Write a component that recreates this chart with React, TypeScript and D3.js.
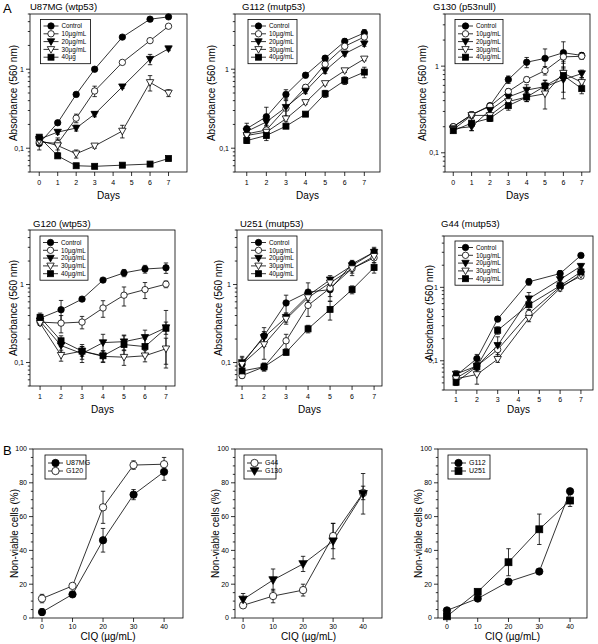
import React from 'react';
import * as d3 from 'd3';

// ---------- DATA ----------
const LEGEND_A = ['Control', '10µg/mL', '20µg/mL', '30µg/mL', '40µg/mL'];
const LEGEND_U87 = ['Control', '10µg/mL', '20µg/mL', '30µg/mL', '40µg'];

// U87MG (wtp53)
const U87_DAYS = [0, 1, 2, 3, 4.5, 6, 7];
const U87_CTRL = [0.115, 0.21, 0.48, 1.0, 2.55, 4.3, 4.6];
const U87_10 = [0.12, 0.115, 0.24, 0.53, 1.22, 2.3, 3.5];
const U87_20 = [0.13, 0.16, 0.18, 0.27, 0.6, 1.34, 1.82];
const U87_30 = [0.125, 0.108, 0.085, 0.107, 0.165, 0.68, 0.5];
const U87_40 = [0.138, 0.08, 0.06, 0.059, 0.061, 0.063, 0.074];
const U87_CTRL_E = [0.02, 0.01, 0.03, 0.05, 0.1, 0.15, 0.1];
const U87_10_E = [0.01, 0.02, 0.03, 0.08, 0.06, 0.1, 0.1];
const U87_20_E = [0.01, 0.01, 0.015, 0.02, 0.03, 0.2, 0.1];
const U87_30_E = [0.01, 0.02, 0.01, 0.007, 0.03, 0.15, 0.05];
const U87_40_E = [0.005, 0.003, 0.002, 0.002, 0.002, 0.002, 0.003];

// G112 (mutp53)
const G112_DAYS = [1, 2, 3, 4, 5, 6, 7];
const G112_CTRL = [0.177, 0.25, 0.48, 0.84, 1.38, 2.25, 2.88];
const G112_10 = [0.152, 0.17, 0.32, 0.59, 1.16, 1.95, 2.56];
const G112_20 = [0.163, 0.215, 0.33, 0.53, 0.96, 1.57, 2.1];
const G112_30 = [0.145, 0.16, 0.236, 0.38, 0.66, 0.96, 1.35];
const G112_40 = [0.125, 0.145, 0.19, 0.27, 0.49, 0.72, 0.92];
const G112_CTRL_E = [0.03, 0.08, 0.07, 0.06, 0.1, 0.2, 0.3];
const G112_10_E = [0.01, 0.02, 0.08, 0.05, 0.1, 0.15, 0.2];
const G112_20_E = [0.01, 0.02, 0.1, 0.04, 0.08, 0.1, 0.15];
const G112_30_E = [0.01, 0.01, 0.02, 0.02, 0.03, 0.05, 0.07];
const G112_40_E = [0.01, 0.02, 0.01, 0.01, 0.05, 0.08, 0.14];

// G130 (p53null)
const G130_DAYS = [0, 1, 2, 3, 4, 5, 6, 7];
const G130_CTRL = [0.2, 0.275, 0.35, 0.7, 1.11, 1.23, 1.43, 1.33];
const G130_10 = [0.2, 0.275, 0.345, 0.51, 0.7, 0.89, 1.28, 1.3];
const G130_20 = [0.19, 0.2, 0.31, 0.44, 0.53, 0.58, 0.7, 0.82];
const G130_30 = [0.185, 0.27, 0.27, 0.39, 0.44, 0.48, 0.83, 0.65];
const G130_40 = [0.18, 0.22, 0.25, 0.35, 0.44, 0.59, 0.78, 0.55];
const G130_CTRL_E = [0.01, 0.02, 0.02, 0.07, 0.15, 0.35, 0.48, 0.1];
const G130_10_E = [0.01, 0.02, 0.02, 0.04, 0.05, 0.1, 0.2, 0.1];
const G130_20_E = [0.01, 0.02, 0.03, 0.06, 0.08, 0.1, 0.2, 0.08];
const G130_30_E = [0.01, 0.02, 0.02, 0.04, 0.05, 0.16, 0.15, 0.08];
const G130_40_E = [0.01, 0.04, 0.02, 0.04, 0.05, 0.1, 0.36, 0.07];

// G120 (wtp53)
const G120_DAYS = [1, 2, 3, 4, 5, 6, 7];
const G120_CTRL = [0.37, 0.475, 0.65, 1.14, 1.41, 1.58, 1.64];
const G120_10 = [0.33, 0.32, 0.33, 0.5, 0.73, 0.86, 1.01];
const G120_20 = [0.34, 0.165, 0.13, 0.18, 0.185, 0.21, 0.28];
const G120_30 = [0.32, 0.124, 0.14, 0.12, 0.117, 0.122, 0.15];
const G120_40 = [0.38, 0.19, 0.14, 0.122, 0.17, 0.16, 0.275];
const G120_CTRL_E = [0.04, 0.15, 0.04, 0.06, 0.15, 0.18, 0.25];
const G120_10_E = [0.03, 0.08, 0.06, 0.12, 0.2, 0.2, 0.1];
const G120_20_E = [0.03, 0.03, 0.03, 0.05, 0.04, 0.05, 0.05];
const G120_30_E = [0.02, 0.02, 0.02, 0.02, 0.025, 0.02, 0.055];
const G120_40_E = [0.05, 0.03, 0.03, 0.02, 0.05, 0.04, 0.19];

// U251 (mutp53)
const U251_DAYS = [1, 2, 3, 4, 5, 6, 7];
const U251_CTRL = [0.095, 0.22, 0.58, 0.8, 0.86, 1.84, 2.6];
const U251_10 = [0.068, 0.088, 0.19, 0.54, 0.9, 1.6, 2.2];
const U251_20 = [0.1, 0.21, 0.38, 0.72, 1.15, 1.75, 2.6];
const U251_30 = [0.095, 0.17, 0.36, 0.68, 1.05, 1.6, 2.3];
const U251_40 = [0.078, 0.088, 0.135, 0.27, 0.48, 0.86, 1.65];
const U251_CTRL_E = [0.02, 0.06, 0.15, 0.25, 0.25, 0.2, 0.4];
const U251_10_E = [0.005, 0.01, 0.04, 0.15, 0.2, 0.3, 0.3];
const U251_20_E = [0.02, 0.04, 0.05, 0.1, 0.15, 0.2, 0.3];
const U251_30_E = [0.01, 0.06, 0.05, 0.1, 0.1, 0.2, 0.2];
const U251_40_E = [0.005, 0.01, 0.01, 0.03, 0.13, 0.1, 0.25];

// G44 (mutp53)
const G44_DAYS = [1, 2, 3, 4.5, 6, 7];
const G44_CTRL = [0.063, 0.107, 0.37, 1.19, 1.54, 2.72];
const G44_10 = [0.058, 0.085, 0.142, 0.44, 1.02, 1.42];
const G44_20 = [0.066, 0.085, 0.162, 0.7, 1.28, 1.94];
const G44_30 = [0.057, 0.065, 0.105, 0.38, 0.97, 1.5];
const G44_40 = [0.051, 0.083, 0.26, 0.58, 1.05, 1.62];
const G44_CTRL_E = [0.007, 0.015, 0.03, 0.12, 0.15, 0.1];
const G44_10_E = [0.005, 0.01, 0.02, 0.05, 0.08, 0.1];
const G44_20_E = [0.007, 0.02, 0.05, 0.15, 0.1, 0.15];
const G44_30_E = [0.005, 0.017, 0.01, 0.04, 0.08, 0.1];
const G44_40_E = [0.005, 0.01, 0.03, 0.08, 0.1, 0.1];

// Panel B
const CIQ = [0, 10, 20, 30, 40];
const B_U87MG = [3.5, 14, 46, 73, 86.5];
const B_U87MG_E = [2, 1, 7, 3, 5];
const B_G120 = [11.5, 19, 65.5, 90.5, 91];
const B_G120_E = [2.5, 1, 9.5, 2.5, 4];
const B_G44 = [7.5, 13, 16.5, 48.5, 74];
const B_G44_E = [1, 4, 3.5, 7.5, 4];
const B_G130 = [11, 22.5, 32, 45.5, 73.5];
const B_G130_E = [3.5, 6.5, 4.5, 10.5, 12];
const B_G112 = [4.5, 11.5, 21.5, 27.5, 75];
const B_G112_E = [0.5, 0.5, 0.5, 0.5, 0.5];
const B_U251 = [1, 15.5, 33, 52.5, 69.5];
const B_U251_E = [0.5, 0.5, 8, 9, 3.5];

const DAY_TICKS_0 = [0, 1, 2, 3, 4, 5, 6, 7];
const DAY_TICKS_1 = [1, 2, 3, 4, 5, 6, 7];
const CIQ_TICKS = [0, 10, 20, 30, 40];

// ---------- DRAWING ----------
const FONT = '"Liberation Sans", Arial, Helvetica, sans-serif';
const SW = 0.8;

type Shape = 'circle' | 'circleOpen' | 'tri' | 'triOpen' | 'square';
const SHAPES5: Shape[] = ['circle', 'circleOpen', 'tri', 'triOpen', 'square'];

function Marker({ shape, x, y, s = 1 }: { shape: Shape; x: number; y: number; s?: number }) {
  const fill = shape === 'circleOpen' || shape === 'triOpen' ? 'white' : 'black';
  if (shape === 'circle' || shape === 'circleOpen') {
    return <circle cx={x} cy={y} r={3.2 * s} fill={fill} stroke="black" strokeWidth={SW} />;
  }
  if (shape === 'square') {
    const h = 3.0 * s;
    return <rect x={x - h} y={y - h} width={2 * h} height={2 * h} fill={fill} stroke="black" strokeWidth={SW} />;
  }
  const w = 3.7 * s;
  const hh = 3.3 * s;
  return (
    <path d={`M${x - w},${y - hh * 0.85}L${x + w},${y - hh * 0.85}L${x},${y + hh * 1.15}Z`} fill={fill} stroke="black" strokeWidth={SW} />
  );
}

type Series = { x: number[]; y: number[]; e: number[]; shape: Shape; label: string };

type PanelCfg = {
  x0: number; x1: number; y0: number; y1: number;
  xDomain: [number, number];
  yDomain: [number, number];
  log: boolean;
  xTicks: number[];
  tickOff: number;
  title?: string;
  titleY?: number;
  titleX?: number;
  yLabel: string;
  yLabelX: number;
  xLabel: string;
  xLabelY: number;
  legend: { x: number; y: number; w: number; step: number; pad: number; fs: number };
  series: Series[];
  ms: number;
};

function Panel({ c }: { c: PanelCfg }) {
  const xs = d3.scaleLinear().domain(c.xDomain).range([c.x0, c.x1]);
  const ys = c.log
    ? d3.scaleLog().domain(c.yDomain).range([c.y1, c.y0])
    : d3.scaleLinear().domain(c.yDomain).range([c.y1, c.y0]);
  const [lo, hi] = c.yDomain;
  const els: React.ReactNode[] = [];

  // y ticks
  if (c.log) {
    const start = Math.floor(Math.log10(lo));
    const end = Math.ceil(Math.log10(hi));
    for (let p = start; p <= end; p++) {
      for (let m = 1; m <= 9; m++) {
        const v = m * Math.pow(10, p);
        if (v < lo * 0.999 || v > hi * 1.001) continue;
        const yy = ys(v);
        const major = m === 1;
        els.push(<line key={`yt${p}_${m}`} x1={c.x0} x2={c.x0 - (major ? 4 : 2.2)} y1={yy} y2={yy} stroke="black" strokeWidth={SW} />);
        if (major) {
          const lab = v >= 1 ? String(v) : String(v).replace('.', ',');
          els.push(<text key={`yl${p}`} x={c.x0 - 6} y={yy} dy="0.35em" textAnchor="end" fontSize={7} fontFamily={FONT}>{lab}</text>);
        }
      }
    }
  } else {
    for (let v = lo; v <= hi; v += 5) {
      const yy = ys(v);
      const major = v % 20 === 0;
      els.push(<line key={`yt${v}`} x1={c.x0} x2={c.x0 - (major ? 4 : 2.2)} y1={yy} y2={yy} stroke="black" strokeWidth={SW} />);
      if (major) els.push(<text key={`yl${v}`} x={c.x0 - 6} y={yy} dy="0.35em" textAnchor="end" fontSize={7} fontFamily={FONT}>{v}</text>);
    }
  }
  // x ticks
  c.xTicks.forEach((t) => {
    const xx = xs(t);
    els.push(<line key={`xt${t}`} x1={xx} x2={xx} y1={c.y1} y2={c.y1 + 4} stroke="black" strokeWidth={SW} />);
    els.push(<text key={`xl${t}`} x={xx} y={c.y1 + c.tickOff} textAnchor="middle" fontSize={7} fontFamily={FONT}>{t}</text>);
  });

  const line = d3.line<[number, number]>().x((d) => xs(d[0])).y((d) => ys(d[1]));

  c.series.forEach((s, si) => {
    const pts = s.x.map((xv, i) => [xv, s.y[i]] as [number, number]);
    els.push(<path key={`ln${si}`} d={line(pts) || ''} fill="none" stroke="black" strokeWidth={SW} />);
  });
  c.series.forEach((s, si) => {
    s.x.forEach((xv, i) => {
      const e = s.e[i];
      if (!e) return;
      const xx = xs(xv);
      const top = ys(Math.min(hi, s.y[i] + e));
      const bot = ys(Math.max(lo, s.y[i] - e));
      els.push(
        <g key={`eb${si}_${i}`} stroke="black" strokeWidth={SW}>
          <line x1={xx} x2={xx} y1={top} y2={bot} />
          <line x1={xx - 2.2} x2={xx + 2.2} y1={top} y2={top} />
          <line x1={xx - 2.2} x2={xx + 2.2} y1={bot} y2={bot} />
        </g>
      );
    });
  });
  c.series.forEach((s, si) => {
    s.x.forEach((xv, i) => {
      els.push(<Marker key={`mk${si}_${i}`} shape={s.shape} x={xs(xv)} y={ys(s.y[i])} s={c.ms} />);
    });
  });

  // frame
  els.push(<rect key="frame" x={c.x0} y={c.y0} width={c.x1 - c.x0} height={c.y1 - c.y0} fill="none" stroke="black" strokeWidth={SW} />);

  // legend
  const L = c.legend;
  const n = c.series.length;
  const h = L.pad * 2 + L.step * (n - 1);
  els.push(<rect key="lgbox" x={L.x} y={L.y} width={L.w} height={h} fill="white" stroke="black" strokeWidth={SW} />);
  c.series.forEach((s, i) => {
    const yy = L.y + L.pad + L.step * i;
    els.push(<line key={`lgl${i}`} x1={L.x + 3} x2={L.x + 18} y1={yy} y2={yy} stroke="black" strokeWidth={SW} />);
    els.push(<Marker key={`lgm${i}`} shape={s.shape} x={L.x + 10.5} y={yy} s={c.ms} />);
    els.push(<text key={`lgt${i}`} x={L.x + 21} y={yy} dy="0.35em" fontSize={L.fs} fontFamily={FONT}>{s.label}</text>);
  });

  // labels
  if (c.title) {
    els.push(<text key="title" x={c.titleX ?? c.x0} y={c.titleY} fontSize={9.5} fontFamily={FONT}>{c.title}</text>);
  }
  const cy = (c.y0 + c.y1) / 2;
  els.push(
    <text key="ylab" transform={`translate(${c.yLabelX},${cy}) rotate(-90)`} textAnchor="middle" dy="0.35em" fontSize={10} fontFamily={FONT}>{c.yLabel}</text>
  );
  els.push(<text key="xlab" x={(c.x0 + c.x1) / 2} y={c.xLabelY} textAnchor="middle" fontSize={10} fontFamily={FONT}>{c.xLabel}</text>);

  return <g>{els}</g>;
}

function mk5(days: number[], ys: number[][], es: number[][], labels: string[]): Series[] {
  return ys.map((y, i) => ({ x: days, y, e: es[i], shape: SHAPES5[i], label: labels[i] }));
}

export default function App() {
  const ABS = 'Absorbance (560 nm)';
  const NV = 'Non-viable cells (%)';
  const CIQL = 'CIQ (µg/mL)';
  const legA = (x: number, y: number, w: number) => ({ x, y, w, step: 7.8, pad: 6.5, fs: 6.3 });
  const legB = (x: number, y: number, w: number) => ({ x, y, w, step: 8, pad: 8, fs: 7 });

  const panels: PanelCfg[] = [
    {
      x0: 30, x1: 187, y0: 14, y1: 172, xDomain: [-0.5, 8], yDomain: [0.05, 5], log: true, xTicks: DAY_TICKS_0, tickOff: 12.5,
      title: 'U87MG (wtp53)', titleY: 10, titleX: 30, yLabel: ABS, yLabelX: 13, xLabel: 'Days', xLabelY: 199,
      legend: legA(40.5, 19.5, 50), ms: 1,
      series: mk5(U87_DAYS, [U87_CTRL, U87_10, U87_20, U87_30, U87_40], [U87_CTRL_E, U87_10_E, U87_20_E, U87_30_E, U87_40_E], LEGEND_U87),
    },
    {
      x0: 235, x1: 380, y0: 14, y1: 172, xDomain: [0.4, 7.8], yDomain: [0.05, 5], log: true, xTicks: DAY_TICKS_1, tickOff: 12.5,
      title: 'G112 (mutp53)', titleY: 10, titleX: 242, yLabel: ABS, yLabelX: 211, xLabel: 'Days', xLabelY: 199,
      legend: legA(248, 19.5, 49), ms: 1,
      series: mk5(G112_DAYS, [G112_CTRL, G112_10, G112_20, G112_30, G112_40], [G112_CTRL_E, G112_10_E, G112_20_E, G112_30_E, G112_40_E], LEGEND_A),
    },
    {
      x0: 445, x1: 590, y0: 14, y1: 172, xDomain: [-0.45, 7.45], yDomain: [0.06, 4], log: true, xTicks: DAY_TICKS_0, tickOff: 12.5,
      title: 'G130 (p53null)', titleY: 10, titleX: 433, yLabel: ABS, yLabelX: 422, xLabel: 'Days', xLabelY: 199,
      legend: legA(455, 19.5, 48), ms: 1,
      series: mk5(G130_DAYS, [G130_CTRL, G130_10, G130_20, G130_30, G130_40], [G130_CTRL_E, G130_10_E, G130_20_E, G130_30_E, G130_40_E], LEGEND_A),
    },
    {
      x0: 30, x1: 175, y0: 230, y1: 386, xDomain: [0.52, 7.43], yDomain: [0.05, 5], log: true, xTicks: DAY_TICKS_1, tickOff: 12.5,
      title: 'G120 (wtp53)', titleY: 227, titleX: 33, yLabel: ABS, yLabelX: 13, xLabel: 'Days', xLabelY: 413,
      legend: legA(40, 236, 48), ms: 1,
      series: mk5(G120_DAYS, [G120_CTRL, G120_10, G120_20, G120_30, G120_40], [G120_CTRL_E, G120_10_E, G120_20_E, G120_30_E, G120_40_E], LEGEND_A),
    },
    {
      x0: 237, x1: 382, y0: 230, y1: 386, xDomain: [0.77, 7.36], yDomain: [0.05, 5], log: true, xTicks: DAY_TICKS_1, tickOff: 12.5,
      title: 'U251 (mutp53)', titleY: 227, titleX: 240, yLabel: ABS, yLabelX: 218, xLabel: 'Days', xLabelY: 413,
      legend: legA(248, 236, 49), ms: 1,
      series: mk5(U251_DAYS, [U251_CTRL, U251_10, U251_20, U251_30, U251_40], [U251_CTRL_E, U251_10_E, U251_20_E, U251_30_E, U251_40_E], LEGEND_A),
    },
    {
      x0: 444, x1: 593, y0: 236, y1: 390, xDomain: [0.42, 7.58], yDomain: [0.04, 5], log: true, xTicks: DAY_TICKS_1, tickOff: 11.5,
      title: 'G44 (mutp53)', titleY: 227, titleX: 441, yLabel: ABS, yLabelX: 429, xLabel: 'Days', xLabelY: 413,
      legend: legA(455, 241, 48), ms: 1,
      series: mk5(G44_DAYS, [G44_CTRL, G44_10, G44_20, G44_30, G44_40], [G44_CTRL_E, G44_10_E, G44_20_E, G44_30_E, G44_40_E], LEGEND_A),
    },
    {
      x0: 33, x1: 183, y0: 449, y1: 618, xDomain: [-2.95, 46.2], yDomain: [0, 100], log: false, xTicks: CIQ_TICKS, tickOff: 10.5,
      yLabel: NV, yLabelX: 14, xLabel: CIQL, xLabelY: 640,
      legend: legB(45, 455, 41), ms: 1.15,
      series: [
        { x: CIQ, y: B_U87MG, e: B_U87MG_E, shape: 'circle', label: 'U87MG' },
        { x: CIQ, y: B_G120, e: B_G120_E, shape: 'circleOpen', label: 'G120' },
      ],
    },
    {
      x0: 235, x1: 382, y0: 449, y1: 618, xDomain: [-2.7, 46.3], yDomain: [0, 100], log: false, xTicks: CIQ_TICKS, tickOff: 10.5,
      yLabel: NV, yLabelX: 215, xLabel: CIQL, xLabelY: 640,
      legend: legB(244, 455, 32), ms: 1.15,
      series: [
        { x: CIQ, y: B_G44, e: B_G44_E, shape: 'circleOpen', label: 'G44' },
        { x: CIQ, y: B_G130, e: B_G130_E, shape: 'tri', label: 'G130' },
      ],
    },
    {
      x0: 438, x1: 587, y0: 449, y1: 618, xDomain: [-2.9, 45.5], yDomain: [0, 100], log: false, xTicks: CIQ_TICKS, tickOff: 10.5,
      yLabel: NV, yLabelX: 418, xLabel: CIQL, xLabelY: 640,
      legend: legB(448, 455, 42), ms: 1.15,
      series: [
        { x: CIQ, y: B_G112, e: B_G112_E, shape: 'circle', label: 'G112' },
        { x: CIQ, y: B_U251, e: B_U251_E, shape: 'square', label: 'U251' },
      ],
    },
  ];

  return (
    <svg width={598} height={644} style={{ position: 'absolute', left: 0, top: 0, background: 'white' }}>
      <rect x={0} y={0} width={598} height={644} fill="white" />
      <text x={3} y={13} fontSize={13} fontFamily={FONT}>A</text>
      <text x={3} y={455} fontSize={13} fontFamily={FONT}>B</text>
      {panels.map((p, i) => <Panel key={i} c={p} />)}
    </svg>
  );
}
